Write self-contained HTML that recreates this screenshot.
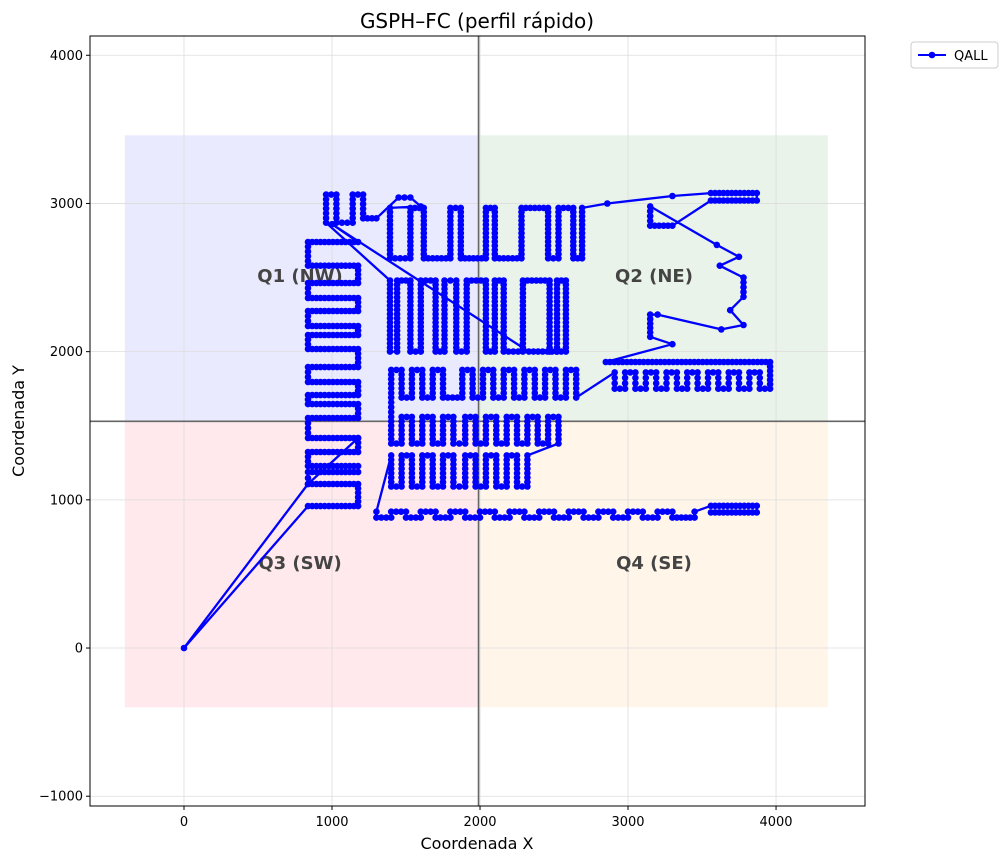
<!DOCTYPE html>
<html><head><meta charset="utf-8"><style>
body{margin:0;background:#fff;font-family:"Liberation Sans","DejaVu Sans",sans-serif}
svg text{font-family:"DejaVu Sans","Liberation Sans",sans-serif}
</style></head><body>
<svg id="chart" width="1006" height="863" viewBox="0 0 1006 863"></svg>
<script>
const xTicks=[0,1000,2000,3000,4000];
const yTicks=[-1000,0,1000,2000,3000,4000];
const splitX=1990, splitY=1530;
const quadX=[-400,4350], quadY=[-400,3460];
const routeX=[1176,838,0,838,1176,1176,838,838,1176,1176,838,838,1176,1176,838,838,1176,1176,838,838,1176,1176,838,838,1176,1176,838,838,1176,1176,838,838,1176,1176,838,838,1176,1176,838,838,1176,
1000,2330,
2580,2580,2520,2520,2470,2470,2290,2290,2160,2160,2100,2100,2040,2040,1910,1910,1840,1840,1760,1760,1700,1700,1600,1600,1530,1530,1440,1440,1392,1392,
960,960,1030,1030,1140,1140,1210,1210,1300,1450,1530,1600,
1392,1392,1530,1530,1620,1620,1800,1800,1870,1870,2040,2040,2100,2100,2280,2280,2460,2460,2530,2530,2630,2630,2690,2690,
2860,3300,3560,3870,3870,3560,3300,3150,3150,3600,3750,3620,3780,3780,3690,3780,3630,3200,3150,3150,3300,
2850,3960,3960,3890,3890,3820,3820,3750,3750,3680,3680,3610,3610,3540,3540,3470,3470,3400,3400,3330,3330,3260,3260,3190,3190,3120,3120,3050,3050,2980,2980,2910,2910,
2650,2650,2580,2580,2510,2510,2440,2440,2370,2370,2300,2300,2230,2230,2160,2160,2090,2090,2020,2020,1950,1950,1880,1880,1750,1750,1680,1680,1610,1610,1540,1540,1470,1470,1400,1400,
1400,1400,1470,1470,1540,1540,1610,1610,1680,1680,1750,1750,1820,1820,1900,1900,1970,1970,2040,2040,2110,2110,2180,2180,2250,2250,2320,2320,2390,2390,2460,2460,2530,2530,
2320,2320,2250,2250,2180,2180,2110,2110,2040,2040,1970,1970,1900,1900,1820,1820,1750,1750,1680,1680,1610,1610,1540,1540,1470,1470,1400,1400,
1300,1300,1400,1400,1500,1500,1600,1600,1700,1700,1800,1800,1900,1900,2000,2000,2100,2100,2200,2200,2300,2300,2400,2400,2500,2500,2600,2600,2700,2700,2800,2800,2900,2900,3000,3000,3100,3100,3200,3200,3300,3300,3450,3450,
3560,3870,3870,3560];
const routeY=[1417,1107,0,958,958,1107,1107,1188,1188,1228,1228,1323,1323,1417,1417,1552,1552,1646,1646,1707,1707,1795,1795,1896,1896,2018,2018,2112,2112,2173,2173,2274,2274,2362,2362,2463,2463,2580,2580,2740,2740,
2860,2000,
2000,2480,2480,2000,2000,2480,2480,2000,2000,2480,2480,2000,2000,2480,2480,2000,2000,2480,2480,2000,2000,2480,2480,2000,2000,2480,2480,2000,2000,2480,
2870,3060,3060,2870,2870,3060,3060,2900,2900,3040,3040,2980,
2970,2630,2630,2970,2970,2630,2630,2970,2970,2630,2630,2970,2970,2630,2630,2970,2970,2630,2630,2970,2970,2630,2630,2970,
3000,3050,3070,3070,3020,3020,2850,2850,2980,2720,2640,2580,2500,2370,2280,2180,2150,2250,2250,2100,2050,
1930,1930,1750,1750,1860,1860,1750,1750,1860,1860,1750,1750,1860,1860,1750,1750,1860,1860,1750,1750,1860,1860,1750,1750,1860,1860,1750,1750,1860,1860,1750,1750,1860,
1690,1877,1877,1690,1690,1877,1877,1690,1690,1877,1877,1690,1690,1877,1877,1690,1690,1877,1877,1690,1690,1877,1877,1690,1690,1877,1877,1690,1690,1877,1877,1690,1690,1877,1877,1690,
1560,1380,1380,1560,1560,1380,1380,1560,1560,1380,1380,1560,1560,1380,1380,1560,1560,1380,1380,1560,1560,1380,1380,1560,1560,1380,1380,1560,1560,1380,1380,1560,1560,1380,
1300,1090,1090,1300,1300,1090,1090,1300,1300,1090,1090,1300,1300,1090,1090,1300,1300,1090,1090,1300,1300,1090,1090,1300,1300,1090,1090,1300,
920,880,880,920,920,880,880,920,920,880,880,920,920,880,880,920,920,880,880,920,920,880,880,920,920,880,880,920,920,880,880,920,920,880,880,920,920,880,880,920,920,880,880,920,
960,960,915,915];

const NS="http://www.w3.org/2000/svg";
const svg=document.getElementById('chart');
const L=90,R=865,T=36,B=806;
const xmin=-635,xmax=4601,ymin=-1066,ymax=4130;
function sx(v){return L+(v-xmin)/(xmax-xmin)*(R-L);}
function sy(v){return B-(v-ymin)/(ymax-ymin)*(B-T);}
function mk(tag,attrs,parent){const e=document.createElementNS(NS,tag);for(const k in attrs)e.setAttribute(k,attrs[k]);(parent||svg).appendChild(e);return e;}

const quads=[[quadX[0],splitX,splitY,quadY[1],'#eaeaff','quadrant-nw'],[splitX,quadX[1],splitY,quadY[1],'#e9f3e9','quadrant-ne'],[quadX[0],splitX,quadY[0],splitY,'#ffe9ec','quadrant-sw'],[splitX,quadX[1],quadY[0],splitY,'#fff5e9','quadrant-se']];
quads.forEach(q=>{const r=mk('rect',{x:sx(q[0]),y:sy(q[3]),width:sx(q[1])-sx(q[0]),height:sy(q[2])-sy(q[3]),fill:q[4]});

});
xTicks.forEach(t=>{const g=mk('line',{x1:sx(t),x2:sx(t),y1:T,y2:B,stroke:'#ddd','stroke-width':0.8});


const tk=mk('line',{x1:sx(t),x2:sx(t),y1:B,y2:B+4,stroke:'#000'});


const tx=mk('text',{x:sx(t),y:B+20,'text-anchor':'middle','font-size':13});tx.textContent=t;

});
yTicks.forEach(t=>{const g=mk('line',{x1:L,x2:R,y1:sy(t),y2:sy(t),stroke:'#ddd','stroke-width':0.8});


const tk=mk('line',{x1:L-4,x2:L,y1:sy(t),y2:sy(t),stroke:'#000'});


const tx=mk('text',{x:L-7,y:sy(t)+4.5,'text-anchor':'end','font-size':13});tx.textContent=(t<0?'\u2212'+(-t):t);

});
const vl=mk('line',{x1:sx(splitX),x2:sx(splitX),y1:T,y2:B,stroke:'#666','stroke-width':1.6});


const hl=mk('line',{x1:L,x2:R,y1:sy(splitY),y2:sy(splitY),stroke:'#666','stroke-width':1.6});


[['Q1 (NW)',300,282,'label-q1'],['Q2 (NE)',654,282,'label-q2'],['Q3 (SW)',300,569,'label-q3'],['Q4 (SE)',654,569,'label-q4']].forEach(a=>{
const t=mk('text',{x:a[1],y:a[2],'text-anchor':'middle','font-size':18,'font-weight':'bold',fill:'#444'});t.textContent=a[0];

});
let d='';routeX.forEach((v,i)=>{d+=(i?'L':'M')+sx(v).toFixed(1)+','+sy(routeY[i]).toFixed(1);});
const path=mk('path',{d:d,fill:'none',stroke:'#0000ff','stroke-width':2.3,'stroke-linejoin':'round'});


const g=mk('g',{fill:'#0000ff'});


function dot(x,y){const c=mk('circle',{cx:sx(x).toFixed(1),cy:sy(y).toFixed(1),r:3.3},g);

}
routeX.forEach((v,i)=>{dot(v,routeY[i]);
if(i>0){const x0=routeX[i-1],y0=routeY[i-1];const dx=v-x0,dy=routeY[i]-y0;
if(Math.abs(dx)<1||Math.abs(dy)<1){const len=Math.abs(dx)+Math.abs(dy);const n=Math.floor(len/28);
for(let k=1;k<n;k++){dot(x0+dx*k/n,y0+dy*k/n);}}}});
const fr=mk('rect',{x:L,y:T,width:R-L,height:B-T,fill:'none',stroke:'#000','stroke-width':1});


const ti=mk('text',{x:477,y:28,'text-anchor':'middle','font-size':20});ti.textContent='GSPH\u2013FC (perfil rápido)';


const xt=mk('text',{x:477,y:849,'text-anchor':'middle','font-size':16});xt.textContent='Coordenada X';


const yt=mk('text',{x:24,y:421,'text-anchor':'middle','font-size':16,transform:'rotate(-90 24 421)'});yt.textContent='Coordenada Y';


const lg=mk('g',{});


mk('rect',{x:911,y:42,width:87,height:26,rx:3,fill:'#fff',stroke:'#ccc'},lg);
mk('line',{x1:918,x2:946,y1:55,y2:55,stroke:'#0000ff','stroke-width':2},lg);
mk('circle',{cx:932,cy:55,r:3.3,fill:'#0000ff'},lg);
const lt=mk('text',{x:954,y:60,'font-size':13},lg);lt.textContent='QALL';


</script>
</body></html>
